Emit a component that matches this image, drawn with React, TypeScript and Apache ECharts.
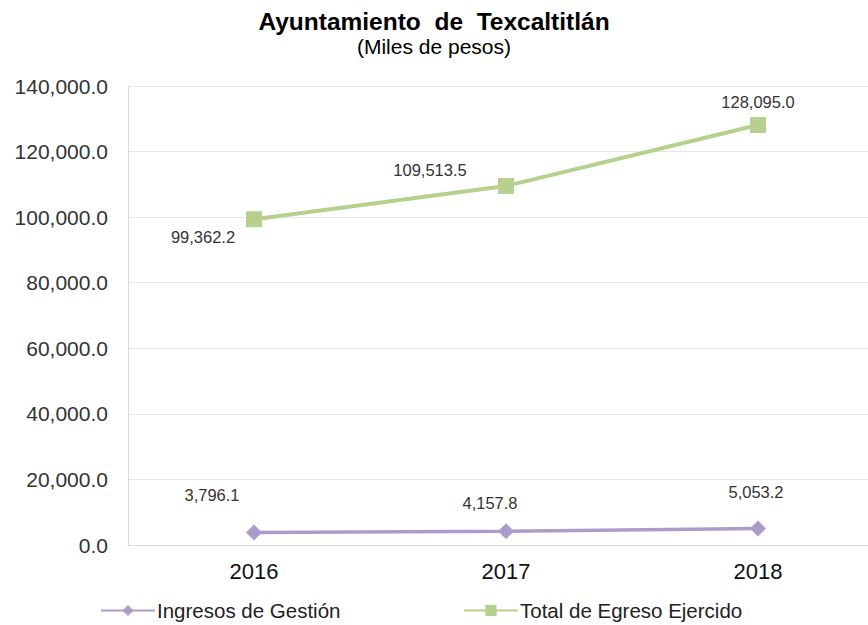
import React, { useEffect, useRef } from "react";
import * as echarts from "echarts";

const years = ["2016", "2017", "2018"];
const ingresos = [3796.1, 4157.8, 5053.2];
const egreso = [99362.2, 109513.5, 128095.0];
const ingresosOffsets = [[-42, -38], [-16, -28], [-2, -36]];
const egresoOffsets = [[-51, 18], [-76, -16], [0, -23]];

const FONT = "'Liberation Sans', Arial, sans-serif";
const fmt = (v: number) =>
  v.toLocaleString("en-US", { minimumFractionDigits: 1, maximumFractionDigits: 1 });

export default function App() {
  const ref = useRef<HTMLDivElement>(null);
  useEffect(() => {
    if (!ref.current) return;
    const chart = echarts.init(ref.current, undefined, { renderer: "svg" });
    const mk = (vals: number[], offs: number[][]) =>
      vals.map((v, i) => ({
        value: v,
        label: { offset: offs[i] },
      }));
    chart.setOption({
      animation: false,
      backgroundColor: "#ffffff",
      textStyle: { fontFamily: FONT },
      title: [
        {
          text: "Ayuntamiento  de  Texcaltitlán",
          left: "center",
          top: 9,
          padding: 0,
          textStyle: { fontFamily: FONT, fontSize: 24.5, fontWeight: "bold", color: "#000" },
        },
        {
          text: "(Miles de pesos)",
          left: "center",
          top: 36,
          padding: 0,
          textStyle: { fontFamily: FONT, fontSize: 21, fontWeight: "normal", color: "#000" },
        },
      ],
      legend: [
        {
          data: ["Ingresos de Gestión"],
          left: 100,
          top: 600,
          padding: 0,
          itemWidth: 54,
          itemHeight: 14,
          itemGap: 2,
          textStyle: { fontFamily: FONT, fontSize: 20.5, color: "#222", padding: [0, 0, 0, -3] },
        },
        {
          data: ["Total de Egreso Ejercido"],
          left: 463,
          top: 600,
          padding: 0,
          itemWidth: 54,
          itemHeight: 14,
          itemGap: 2,
          textStyle: { fontFamily: FONT, fontSize: 20.5, color: "#222", padding: [0, 0, 0, -3] },
        },
      ],
      grid: {
        left: 128,
        width: 756,
        top: 86,
        bottom: 80,
        containLabel: false,
        outerBoundsMode: "none",
      },
      xAxis: {
        type: "category",
        data: years,
        boundaryGap: true,
        axisTick: { show: false },
        axisLine: { lineStyle: { color: "#d9d9d9", width: 1 } },
        axisLabel: { fontFamily: FONT, fontSize: 22, color: "#111", margin: 15 },
      },
      yAxis: {
        type: "value",
        min: 0,
        max: 140000,
        interval: 20000,
        axisLine: { show: true, lineStyle: { color: "#d9d9d9", width: 1 } },
        axisTick: { show: false },
        splitLine: { lineStyle: { color: "#e6e6e6", width: 1 } },
        axisLabel: {
          fontFamily: FONT,
          fontSize: 21,
          color: "#333",
          margin: 20,
          formatter: (v: number) => fmt(v),
        },
      },
      series: [
        {
          name: "Ingresos de Gestión",
          type: "line",
          data: mk(ingresos, ingresosOffsets),
          symbol: "diamond",
          symbolSize: 16,
          itemStyle: { color: "#ab9dc9" },
          lineStyle: { color: "#ab9dc9", width: 3.5 },
          label: {
            show: true,
            position: "inside",
            fontFamily: FONT,
            fontSize: 16.5,
            color: "#333",
            formatter: (p: any) => fmt(p.value),
          },
        },
        {
          name: "Total de Egreso Ejercido",
          type: "line",
          data: mk(egreso, egresoOffsets),
          symbol: "rect",
          symbolSize: 16,
          itemStyle: { color: "#b8d08e" },
          lineStyle: { color: "#b8d08e", width: 4 },
          label: {
            show: true,
            position: "inside",
            fontFamily: FONT,
            fontSize: 16.5,
            color: "#333",
            formatter: (p: any) => fmt(p.value),
          },
        },
      ],
    });
    return () => chart.dispose();
  }, []);
  return (
    <div
      ref={ref}
      style={{ position: "fixed", left: 0, top: 0, width: 868, height: 625 }}
    />
  );
}
